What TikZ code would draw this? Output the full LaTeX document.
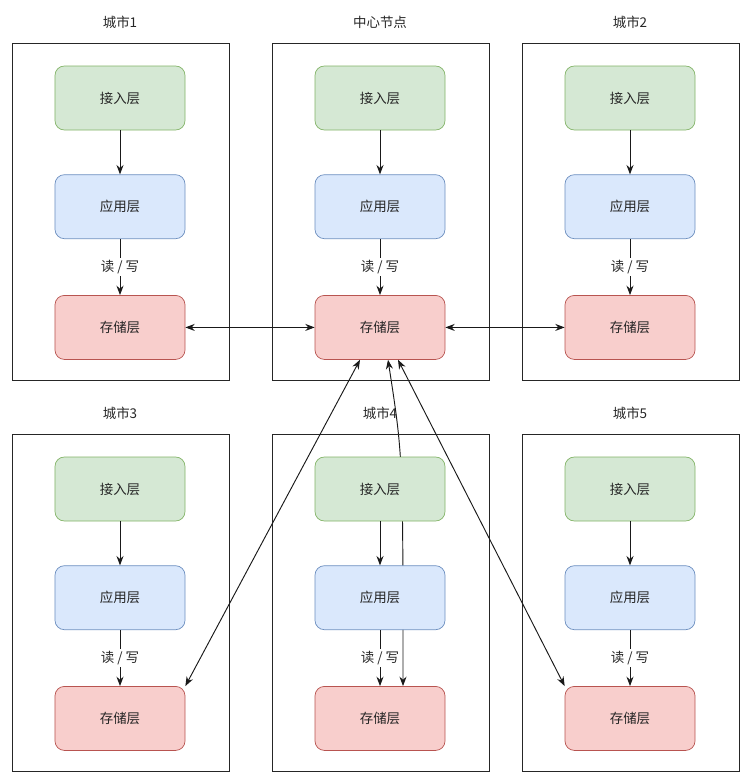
\documentclass[tikz,border=0pt]{standalone}
\usepackage{fontspec}
\setmainfont{Noto Sans CJK SC}
\usepackage{tikz}
\usetikzlibrary{positioning,arrows.meta,backgrounds}
\definecolor{accfill}{HTML}{D5E8D4}
\definecolor{accline}{HTML}{82B366}
\definecolor{appfill}{HTML}{DAE8FC}
\definecolor{appline}{HTML}{6C8EBF}
\definecolor{stofill}{HTML}{F8CECC}
\definecolor{stoline}{HTML}{B85450}

\begin{document}
\begin{tikzpicture}[x=0.03cm,y=-0.03cm,>={Stealth[length=8pt,width=6pt]},
		every node/.style={font=\fontsize{11.5}{13}\selectfont,text=black!85},
		frame/.style={draw=black!85,line width=0.8pt},
		layer/.style={rounded corners=8pt,minimum width=3.9cm,minimum height=1.92cm,line width=0.6pt},
		acc/.style={layer,draw=accline,fill=accfill},
		app/.style={layer,draw=appline,fill=appfill},
		sto/.style={layer,draw=stoline,fill=stofill},
		link/.style={line width=0.8pt,draw=black!90}]
				\useasboundingbox (0,0) rectangle (750,782);
				\foreach\n/\x/\y/\t in {1/0/0/城市1, c/260/0/中心节点, 2/510/0/城市2, 3/0/391/城市3, 4/260/391/城市4, 5/510/391/城市5}
				{\draw[frame] (12+\x,43+\y) rectangle (229+\x,380+\y);
				\node (title\n) at (120+\x,22+\y) {\t};
				\node[acc] (acc\n) at (120+\x,98+\y) {接入层};
				\node[app,below=1.32cm of acc\n] (app\n) {应用层};
				\node[sto,below=1.68cm of app\n] (sto\n) {存储层};
				\draw[link,->] (acc\n) -- (app\n);
				\draw[link,->] (app\n) -- node[fill=white,inner sep=1.5pt] {读 / 写} (sto\n);}
				\draw[link,<->] (sto1) -- (stoc);
				\draw[link,<->] (stoc) -- (sto2);
				\draw[link,<->] ([xshift=-0.6cm]stoc.south) -- (sto3.north east);
				\draw[link,<->] ([xshift=0.54cm]stoc.south) -- (sto5.north west);
				\begin{pgfonlayer}{background}
				\draw[link,<->] ([xshift=0.24cm]stoc.south) .. controls ([xshift=0.69cm]acc4.north) .. ([xshift=0.69cm]sto4.north);
				\end{pgfonlayer}
	\end{tikzpicture}
\end{document}
